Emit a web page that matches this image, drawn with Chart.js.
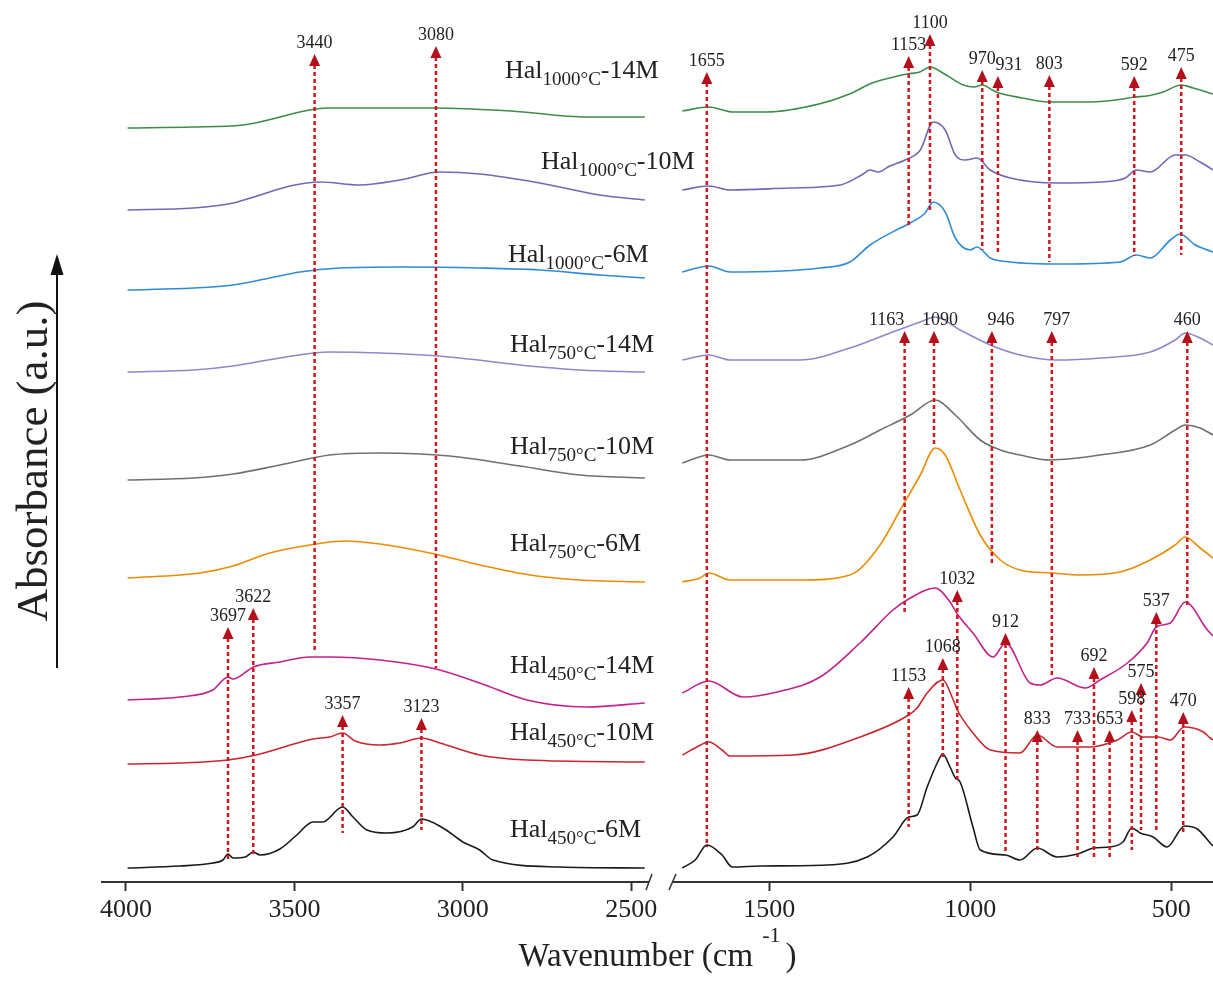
<!DOCTYPE html>
<html>
<head>
<meta charset="utf-8">
<title>FTIR spectra of acid-treated calcined halloysite</title>
<script src="https://cdn.jsdelivr.net/npm/chart.js@4.4.1/dist/chart.umd.min.js"></script>
<style>
  html, body { margin: 0; padding: 0; background: #fff; overflow: hidden; }
  #ftir { display: block; }
</style>
</head>
<body>
<canvas id="ftir" width="1213" height="981"></canvas>
<script>
// Wavenumber ticks for the two axis segments (cm-1)
const ticksHigh = [4000, 3500, 3000, 2500];
const ticksLow = [1500, 1000, 500];

// Stacked absorbance (a.u.), each spectrum split into the 4000-2460 and 1720-400 cm-1 windows

// Hal 1000°C - 14M
const hal1000_14M_wnH = [3995, 3800, 3653, 3454, 3404, 3086, 2858, 2632, 2460];
const hal1000_14M_absH = [7.54, 7.55, 7.57, 7.72, 7.74, 7.74, 7.71, 7.65, 7.65];
const hal1000_14M_wnL = [1716, 1650, 1590, 1507, 1376, 1300, 1244, 1190, 1157, 1125, 1100, 1060, 1017, 990, 970, 945, 928, 870, 806, 700, 620, 592, 560, 520, 475, 445, 428, 396];
const hal1000_14M_absL = [7.71, 7.75, 7.70, 7.70, 7.78, 7.88, 7.99, 8.05, 8.08, 8.10, 8.15, 8.07, 7.97, 7.95, 7.97, 7.92, 7.89, 7.84, 7.80, 7.80, 7.83, 7.85, 7.86, 7.90, 7.97, 7.94, 7.92, 7.88];

// Hal 1000°C - 10M
const hal1000_10M_wnH = [3995, 3800, 3682, 3602, 3513, 3424, 3306, 3187, 3068, 2950, 2772, 2594, 2460];
const hal1000_10M_absH = [6.72, 6.74, 6.79, 6.87, 6.96, 7.00, 6.97, 7.02, 7.10, 7.08, 6.99, 6.87, 6.82];
const hal1000_10M_wnL = [1716, 1650, 1597, 1450, 1323, 1270, 1249, 1229, 1200, 1162, 1124, 1092, 1062, 1037, 1012, 983, 950, 900, 784, 677, 614, 587, 552, 490, 465, 428, 396];
const hal1000_10M_absL = [6.92, 6.96, 6.92, 6.94, 6.97, 7.07, 7.12, 7.10, 7.16, 7.22, 7.32, 7.60, 7.52, 7.27, 7.22, 7.24, 7.12, 7.04, 6.99, 7.00, 7.04, 7.12, 7.10, 7.27, 7.27, 7.20, 7.12];

// Hal 1000°C - 6M
const hal1000_6M_wnH = [3995, 3800, 3682, 3573, 3484, 3365, 3187, 2950, 2772, 2594, 2460];
const hal1000_6M_absH = [5.92, 5.94, 5.97, 6.04, 6.10, 6.14, 6.15, 6.14, 6.12, 6.07, 6.04];
const hal1000_6M_wnL = [1716, 1650, 1597, 1373, 1299, 1249, 1174, 1149, 1112, 1092, 1062, 1037, 1000, 983, 950, 900, 776, 627, 587, 552, 502, 478, 440, 396];
const hal1000_6M_absL = [6.10, 6.16, 6.10, 6.14, 6.20, 6.37, 6.54, 6.59, 6.69, 6.80, 6.70, 6.44, 6.32, 6.35, 6.24, 6.20, 6.18, 6.20, 6.27, 6.24, 6.42, 6.48, 6.37, 6.30];

// Hal 750°C - 14M
const hal750_14M_wnH = [3995, 3800, 3682, 3543, 3395, 3246, 3039, 2831, 2653, 2460];
const hal750_14M_absH = [5.10, 5.12, 5.16, 5.24, 5.30, 5.29, 5.25, 5.17, 5.12, 5.10];
const hal750_14M_wnL = [1716, 1650, 1597, 1423, 1299, 1199, 1124, 1087, 1025, 950, 876, 784, 677, 552, 490, 465, 428, 396];
const hal750_14M_absL = [5.22, 5.27, 5.22, 5.22, 5.34, 5.49, 5.60, 5.65, 5.52, 5.37, 5.27, 5.22, 5.24, 5.30, 5.42, 5.49, 5.44, 5.37];

// Hal 750°C - 10M
const hal750_10M_wnH = [3995, 3800, 3682, 3543, 3395, 3246, 3039, 2831, 2653, 2460];
const hal750_10M_absH = [4.02, 4.04, 4.08, 4.17, 4.27, 4.29, 4.26, 4.16, 4.07, 4.04];
const hal750_10M_wnL = [1716, 1650, 1597, 1423, 1299, 1224, 1149, 1087, 1037, 975, 925, 876, 801, 677, 552, 490, 465, 428, 396];
const hal750_10M_absL = [4.19, 4.27, 4.22, 4.22, 4.37, 4.52, 4.67, 4.82, 4.67, 4.42, 4.32, 4.27, 4.22, 4.27, 4.37, 4.52, 4.57, 4.54, 4.47];

// Hal 750°C - 6M
const hal750_6M_wnH = [3995, 3780, 3682, 3573, 3454, 3350, 3246, 3098, 2950, 2801, 2653, 2460];
const hal750_6M_absH = [3.04, 3.09, 3.16, 3.29, 3.37, 3.41, 3.38, 3.29, 3.17, 3.07, 3.02, 3.00];
const hal750_6M_wnL = [1716, 1672, 1650, 1597, 1423, 1299, 1224, 1174, 1124, 1087, 1062, 1025, 975, 925, 876, 797, 726, 627, 552, 490, 465, 428, 396];
const hal750_6M_absL = [3.00, 3.04, 3.09, 3.02, 3.02, 3.07, 3.37, 3.72, 4.07, 4.34, 4.27, 3.92, 3.47, 3.22, 3.12, 3.09, 3.07, 3.10, 3.22, 3.37, 3.45, 3.34, 3.24];

// Hal 450°C - 14M
const hal450_14M_wnH = [3995, 3840, 3742, 3697, 3682, 3640, 3622, 3543, 3454, 3395, 3246, 3080, 2950, 2810, 2632, 2460];
const hal450_14M_absH = [1.82, 1.85, 1.92, 2.05, 2.03, 2.11, 2.15, 2.20, 2.25, 2.25, 2.22, 2.13, 1.99, 1.82, 1.75, 1.79];
const hal450_14M_wnL = [1716, 1650, 1565, 1480, 1373, 1274, 1192, 1157, 1087, 1050, 1032, 993, 943, 912, 851, 826, 784, 714, 677, 609, 560, 537, 502, 465, 410, 396];
const hal450_14M_absL = [1.89, 2.01, 1.85, 1.90, 2.05, 2.39, 2.72, 2.82, 2.94, 2.80, 2.68, 2.49, 2.25, 2.39, 1.99, 1.97, 2.04, 1.94, 2.02, 2.19, 2.39, 2.55, 2.59, 2.80, 2.52, 2.46];

// Hal 450°C - 10M
const hal450_10M_wnH = [3995, 3840, 3697, 3614, 3445, 3395, 3357, 3320, 3246, 3187, 3123, 3068, 2950, 2810, 2460];
const hal450_10M_absH = [1.18, 1.19, 1.22, 1.27, 1.43, 1.45, 1.49, 1.41, 1.37, 1.39, 1.44, 1.39, 1.27, 1.22, 1.20];
const hal450_10M_wnL = [1716, 1684, 1650, 1617, 1597, 1440, 1274, 1153, 1132, 1107, 1068, 1042, 1032, 993, 950, 876, 833, 784, 701, 634, 598, 570, 532, 502, 468, 420, 403, 396];
const hal450_10M_absL = [1.27, 1.34, 1.40, 1.32, 1.26, 1.27, 1.45, 1.67, 1.74, 1.89, 2.02, 1.82, 1.72, 1.49, 1.32, 1.29, 1.47, 1.35, 1.35, 1.42, 1.50, 1.45, 1.45, 1.42, 1.55, 1.50, 1.44, 1.42];

// Hal 450°C - 6M
const hal450_6M_wnH = [3995, 3840, 3742, 3712, 3697, 3682, 3646, 3622, 3602, 3543, 3493, 3445, 3416, 3357, 3326, 3285, 3226, 3149, 3123, 3059, 3000, 2950, 2911, 2712, 2460];
const hal450_6M_absH = [0.14, 0.16, 0.19, 0.22, 0.28, 0.24, 0.25, 0.30, 0.27, 0.33, 0.47, 0.60, 0.60, 0.75, 0.65, 0.52, 0.49, 0.55, 0.63, 0.54, 0.40, 0.32, 0.22, 0.15, 0.14];
const hal450_6M_wnL = [1716, 1684, 1655, 1617, 1592, 1522, 1356, 1256, 1192, 1153, 1132, 1107, 1082, 1068, 1050, 1037, 1025, 993, 975, 912, 876, 833, 784, 733, 692, 653, 620, 598, 577, 545, 510, 478, 468, 435, 403, 396];
const hal450_6M_absL = [0.14, 0.22, 0.37, 0.27, 0.15, 0.16, 0.17, 0.25, 0.45, 0.65, 0.67, 0.95, 1.19, 1.28, 1.15, 1.04, 1.00, 0.55, 0.32, 0.27, 0.22, 0.34, 0.25, 0.28, 0.34, 0.35, 0.40, 0.54, 0.49, 0.45, 0.35, 0.52, 0.56, 0.53, 0.39, 0.36];

// Assigned bands: [wavenumber, arrow tip (a.u.), line foot (a.u.), label dx (px)]
const bandsHigh = [
  [3440, 8.28, 2.29], [3080, 8.36, 2.14],
  [3697, 2.55, 0.22], [3622, 2.74, 0.25], [3357, 1.67, 0.49], [3123, 1.64, 0.52]
];
const bandsLow = [
  [1655, 8.10, 0.35], [1153, 8.26, 6.54], [1100, 8.48, 6.70], [970, 8.12, 6.32],
  [931, 8.06, 6.27, 11], [803, 8.07, 6.20], [592, 8.06, 6.26], [475, 8.15, 6.27],
  [1163, 5.51, 2.70, -18], [1090, 5.51, 4.37, 6], [946, 5.51, 3.17, 9], [797, 5.51, 2.04, 5], [460, 5.51, 2.77],
  [1032, 2.92, 1.02], [912, 2.49, 0.30], [537, 2.70, 0.52], [692, 2.15, 0.25], [575, 1.99, 0.52],
  [598, 1.72, 0.32], [1153, 1.95, 0.55], [1068, 2.24, 1.25], [833, 1.52, 0.29], [733, 1.52, 0.22],
  [653, 1.52, 0.22], [470, 1.70, 0.49]
];

const spectra = [
  { temp: '1000°C', acid: '14M', color: '#3b8d47', wnH: hal1000_14M_wnH, absH: hal1000_14M_absH, wnL: hal1000_14M_wnL, absL: hal1000_14M_absL },
  { temp: '1000°C', acid: '10M', color: '#7665b5', wnH: hal1000_10M_wnH, absH: hal1000_10M_absH, wnL: hal1000_10M_wnL, absL: hal1000_10M_absL },
  { temp: '1000°C', acid: '6M', color: '#2f8bd5', wnH: hal1000_6M_wnH, absH: hal1000_6M_absH, wnL: hal1000_6M_wnL, absL: hal1000_6M_absL },
  { temp: '750°C', acid: '14M', color: '#8c89cb', wnH: hal750_14M_wnH, absH: hal750_14M_absH, wnL: hal750_14M_wnL, absL: hal750_14M_absL },
  { temp: '750°C', acid: '10M', color: '#707070', wnH: hal750_10M_wnH, absH: hal750_10M_absH, wnL: hal750_10M_wnL, absL: hal750_10M_absL },
  { temp: '750°C', acid: '6M', color: '#eb8c05', wnH: hal750_6M_wnH, absH: hal750_6M_absH, wnL: hal750_6M_wnL, absL: hal750_6M_absL },
  { temp: '450°C', acid: '14M', color: '#c2228b', wnH: hal450_14M_wnH, absH: hal450_14M_absH, wnL: hal450_14M_wnL, absL: hal450_14M_absL },
  { temp: '450°C', acid: '10M', color: '#c9262f', wnH: hal450_10M_wnH, absH: hal450_10M_absH, wnL: hal450_10M_wnL, absL: hal450_10M_absL },
  { temp: '450°C', acid: '6M', color: '#1a1a1a', wnH: hal450_6M_wnH, absH: hal450_6M_absH, wnL: hal450_6M_wnL, absL: hal450_6M_absL }
];

// where each sample name sits (left x, text baseline), px
const nameAnchors = [[505, 78], [541, 169], [508, 262], [510, 352], [510, 454], [510, 551], [510, 673], [510, 740], [510, 837]];

const SERIF = '"Liberation Serif", "Times New Roman", serif';

const datasets = [];
spectra.forEach(s => {
  const name = 'Hal' + s.temp + '-' + s.acid;
  datasets.push({
    label: name, xAxisID: 'xHigh', yAxisID: 'y', borderColor: s.color,
    data: s.wnH.map((w, i) => ({ x: w, y: s.absH[i] }))
  });
  datasets.push({
    label: name, xAxisID: 'xLow', yAxisID: 'y', borderColor: s.color,
    data: s.wnL.map((w, i) => ({ x: w, y: s.absL[i] }))
  });
});

// one segment of the broken wavenumber axis
function segmentAxis(min, max, tickValues, weight) {
  return {
    type: 'linear', axis: 'x', position: 'bottom', reverse: true, min: min, max: max,
    stack: 'wavenumber', stackWeight: weight,
    afterBuildTicks: axis => { axis.ticks = tickValues.map(v => ({ value: v })); },
    afterFit: axis => {
      axis.height = 99;
      // labels never reach the outer edges, so no side padding is needed
      axis.paddingLeft = 0;
      axis.paddingRight = 0;
    },
    grid: { display: true, drawOnChartArea: false, drawTicks: true, tickLength: 9, tickWidth: 2, tickColor: '#333' },
    border: { display: true, color: '#333', width: 2 },
    ticks: {
      font: { family: SERIF, size: 26 }, color: '#222', padding: 4,
      maxRotation: 0, autoSkip: false, callback: v => String(v)
    }
  };
}

function drawBand(ctx, x, yTip, yFoot, text, dx) {
  ctx.save();
  ctx.strokeStyle = '#d0161f';
  ctx.lineWidth = 2.5;
  ctx.setLineDash([4, 3]);
  ctx.beginPath();
  ctx.moveTo(x, yTip + 11);
  ctx.lineTo(x, yFoot);
  ctx.stroke();
  ctx.setLineDash([]);
  ctx.fillStyle = '#b3101b';
  ctx.beginPath();
  ctx.moveTo(x, yTip);
  ctx.lineTo(x - 5.5, yTip + 12);
  ctx.lineTo(x + 5.5, yTip + 12);
  ctx.closePath();
  ctx.fill();
  ctx.fillStyle = '#222';
  ctx.font = '18px ' + SERIF;
  ctx.textAlign = 'center';
  ctx.textBaseline = 'alphabetic';
  ctx.fillText(text, x + (dx || 0), yTip - 6);
  ctx.restore();
}

const decorations = {
  id: 'decorations',
  afterDatasetsDraw(chart) {
    const { ctx, scales } = chart;
    const y = scales.y;
    bandsHigh.forEach(b => drawBand(ctx, scales.xHigh.getPixelForValue(b[0]), y.getPixelForValue(b[1]), y.getPixelForValue(b[2]), String(b[0]), b[3]));
    bandsLow.forEach(b => drawBand(ctx, scales.xLow.getPixelForValue(b[0]), y.getPixelForValue(b[1]), y.getPixelForValue(b[2]), String(b[0]), b[3]));
  },
  afterDraw(chart) {
    const { ctx, chartArea, scales } = chart;
    ctx.save();

    // axis break between the two windows
    const bx = scales.xHigh.right;
    const by = chartArea.bottom;
    ctx.fillStyle = '#fff';
    ctx.fillRect(bx - 12, by - 3, 23, 6);
    ctx.strokeStyle = '#333';
    ctx.lineWidth = 1.5;
    ctx.beginPath();
    ctx.moveTo(bx - 15, by + 8); ctx.lineTo(bx - 9, by - 8);
    ctx.moveTo(bx + 8, by + 8); ctx.lineTo(bx + 15, by - 8);
    ctx.stroke();

    // sample names with subscripted calcination temperature
    ctx.fillStyle = '#222';
    ctx.textAlign = 'left';
    ctx.textBaseline = 'alphabetic';
    spectra.forEach((s, i) => {
      let [x, yb] = nameAnchors[i];
      ctx.font = '26px ' + SERIF;
      ctx.fillText('Hal', x, yb);
      x += ctx.measureText('Hal').width;
      ctx.font = '19px ' + SERIF;
      ctx.fillText(s.temp, x, yb + 7);
      x += ctx.measureText(s.temp).width;
      ctx.font = '26px ' + SERIF;
      ctx.fillText('-' + s.acid, x, yb);
    });

    // x title: Wavenumber (cm^-1)
    ctx.font = '33px ' + SERIF;
    const main = 'Wavenumber (cm';
    const wMain = ctx.measureText(main).width;
    ctx.font = '22px ' + SERIF;
    const wSup = ctx.measureText('-1').width;
    ctx.font = '33px ' + SERIF;
    const wClose = ctx.measureText(')').width;
    let tx = (chartArea.left + chartArea.right) / 2 - (wMain + 14 + wSup + wClose) / 2;
    ctx.fillText(main, tx, 966);
    tx += wMain + 9;
    ctx.font = '22px ' + SERIF;
    ctx.fillText('-1', tx, 942);
    tx += wSup + 5;
    ctx.font = '33px ' + SERIF;
    ctx.fillText(')', tx, 966);

    // y title and arrow
    ctx.save();
    ctx.translate(47, 461);
    ctx.rotate(-Math.PI / 2);
    ctx.textAlign = 'center';
    ctx.font = '45px ' + SERIF;
    ctx.fillText('Absorbance (a.u.)', 0, 0);
    ctx.restore();

    ctx.strokeStyle = '#111';
    ctx.lineWidth = 2;
    ctx.beginPath();
    ctx.moveTo(57, 668);
    ctx.lineTo(57, 272);
    ctx.stroke();
    ctx.fillStyle = '#111';
    ctx.beginPath();
    ctx.moveTo(57, 254);
    ctx.lineTo(50.5, 275);
    ctx.lineTo(63.5, 275);
    ctx.closePath();
    ctx.fill();

    ctx.restore();
  }
};

new Chart(document.getElementById('ftir'), {
  type: 'line',
  data: { datasets: datasets },
  options: {
    responsive: false,
    animation: false,
    layout: { padding: { left: 102, right: 0, top: 0, bottom: 0 } },
    elements: {
      point: { radius: 0 },
      line: { borderWidth: 1.6, cubicInterpolationMode: 'monotone', fill: false }
    },
    plugins: { legend: { display: false }, tooltip: { enabled: false } },
    scales: {
      xHigh: segmentAxis(2412, 4071, ticksHigh, 559),
      xLow: segmentAxis(396, 1769, ticksLow, 552),
      y: { display: false, min: 0, max: 8.82 }
    }
  },
  plugins: [decorations]
});
</script>
</body>
</html>
